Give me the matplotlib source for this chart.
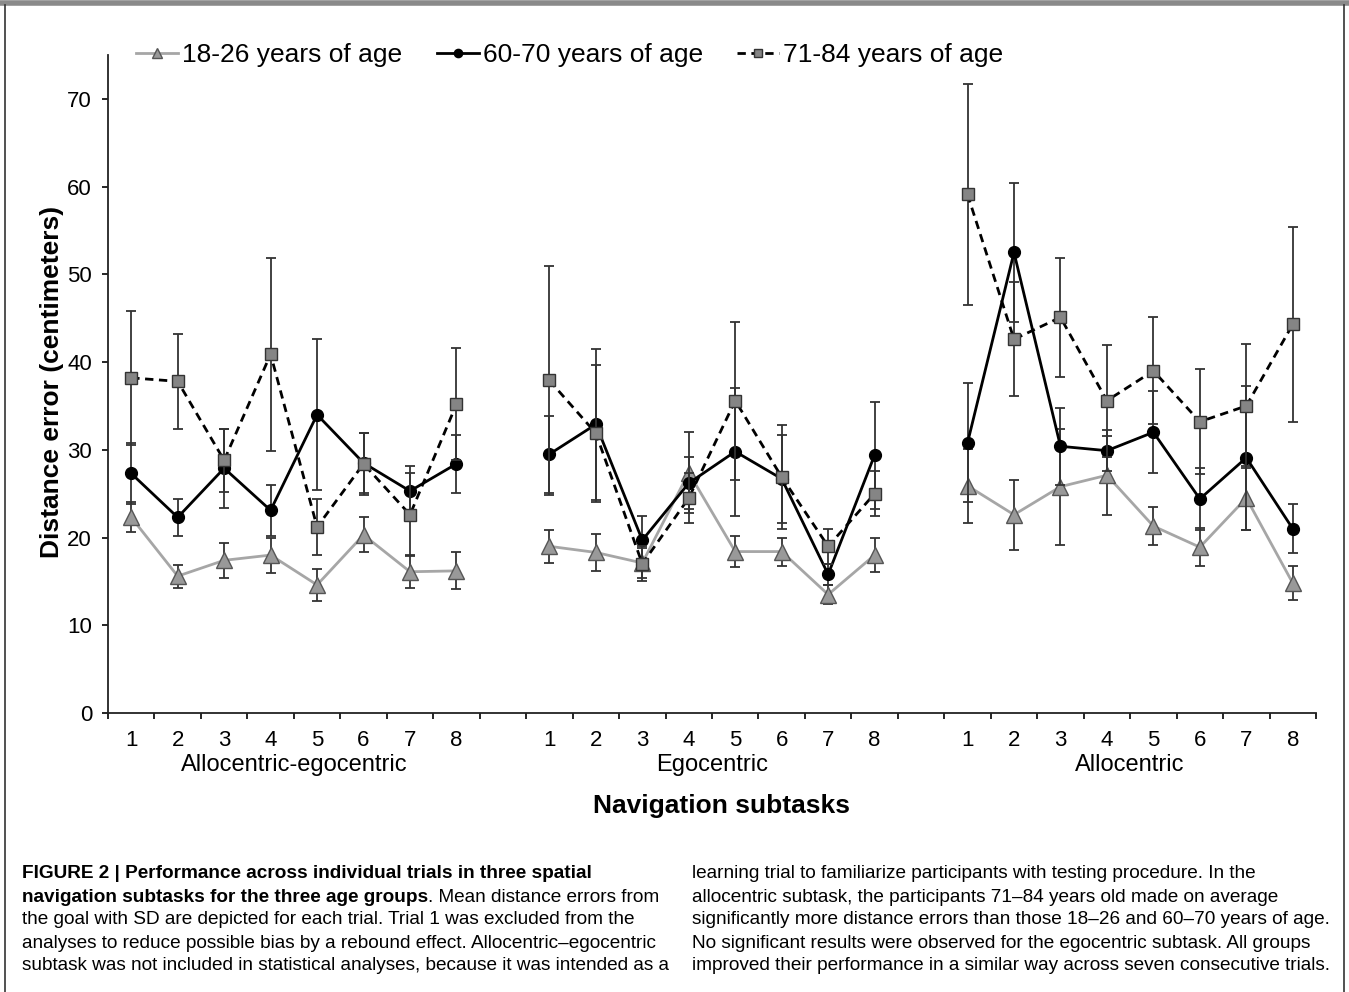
import matplotlib
matplotlib.use('Agg')
import matplotlib.pyplot as plt
from matplotlib.lines import Line2D
import numpy as np

plt.rcParams['font.family'] = ['Liberation Sans', 'DejaVu Sans']

# ---------------- data ----------------
subtasks = ['Allocentric-egocentric', 'Egocentric', 'Allocentric']
trials = ['1', '2', '3', '4', '5', '6', '7', '8']
groups = ['18-26 years of age', '60-70 years of age', '71-84 years of age']

# 18-26 years
young_mean = [
    [22.3, 15.6, 17.4, 18.0, 14.6, 20.3, 16.1, 16.2],
    [19.0, 18.3, 17.1, 27.4, 18.4, 18.4, 13.5, 18.0],
    [25.9, 22.6, 25.8, 27.1, 21.3, 18.9, 24.5, 14.8],
]
young_sd = [
    [1.7, 1.3, 2.0, 2.0, 1.8, 2.0, 1.9, 2.1],
    [1.9, 2.1, 1.7, 4.6, 1.8, 1.6, 1.1, 1.9],
    [4.2, 4.0, 6.6, 4.5, 2.2, 2.2, 3.6, 1.9],
]
# 60-70 years
mid_mean = [
    [27.3, 22.3, 27.9, 23.1, 34.0, 28.5, 25.3, 28.4],
    [29.5, 32.9, 19.7, 26.2, 29.8, 26.7, 15.8, 29.4],
    [30.8, 52.5, 30.4, 29.9, 32.0, 24.4, 29.1, 21.0],
]
mid_sd = [
    [3.5, 2.1, 4.5, 2.9, 8.6, 3.4, 2.9, 3.3],
    [4.4, 8.6, 2.7, 3.0, 7.3, 5.0, 1.2, 6.1],
    [6.8, 7.9, 4.4, 2.3, 4.7, 3.5, 8.2, 2.8],
]
# 71-84 years
old_mean = [
    [38.2, 37.8, 28.8, 40.9, 21.2, 28.4, 22.6, 35.2],
    [37.9, 31.9, 17.0, 24.5, 35.6, 26.9, 19.0, 25.0],
    [59.1, 42.6, 45.1, 35.6, 39.0, 33.2, 35.0, 44.3],
]
old_sd = [
    [7.6, 5.4, 3.6, 11.0, 3.2, 3.5, 4.7, 6.4],
    [13.1, 7.8, 2.0, 2.8, 9.0, 5.9, 2.0, 2.6],
    [12.6, 6.5, 6.8, 6.4, 6.1, 6.0, 7.1, 11.1],
]

caption_left = [
    [("FIGURE 2 | Performance across individual trials in three spatial", 'bold')],
    [("navigation subtasks for the three age groups", 'bold'), (". Mean distance errors from", 'normal')],
    [("the goal with SD are depicted for each trial. Trial 1 was excluded from the", 'normal')],
    [("analyses to reduce possible bias by a rebound effect. Allocentric\u2013egocentric", 'normal')],
    [("subtask was not included in statistical analyses, because it was intended as a", 'normal')],
]
caption_right = [
    "learning trial to familiarize participants with testing procedure. In the",
    "allocentric subtask, the participants 71\u201384 years old made on average",
    "significantly more distance errors than those 18\u201326 and 60\u201370 years of age.",
    "No significant results were observed for the egocentric subtask. All groups",
    "improved their performance in a similar way across seven consecutive trials.",
]

# ---------------- figure ----------------
W, H = 1349, 992
fig = plt.figure(figsize=(W / 100, H / 100), dpi=100)
ax = fig.add_axes([108 / W, 1 - 713 / H, (1316 - 108) / W, (713 - 55) / H])

gap = 9
styles = [
    dict(color='#a6a6a6', lw=2.0, ls='-', marker='^', ms=11, mfc='#999999', mec='#555555', mew=1.0),
    dict(color='black', lw=2.0, ls='-', marker='o', ms=8.5, mfc='black', mec='black', mew=1.0),
    dict(color='black', lw=2.0, ls=(0, (3, 2)), marker='s', ms=8.5, mfc='#858585', mec='#333333', mew=1.0),
]
data = [(young_mean, young_sd), (mid_mean, mid_sd), (old_mean, old_sd)]

for si, (means, sds) in enumerate(data):
    for g in range(len(subtasks)):
        x = np.arange(len(trials)) + g * gap
        ax.errorbar(x, means[g], yerr=sds[g], fmt='none', ecolor='#333333',
                    elinewidth=1.3, capsize=3.5, capthick=1.3, zorder=2 + si)
        ax.plot(x, means[g], zorder=3 + si, **styles[si])

n = len(subtasks) * gap - 1
ax.set_xlim(-0.5, n - 1 + 0.5)
ax.set_ylim(0, 75)
ax.set_yticks(np.arange(0, 71, 10))
ax.tick_params(axis='y', labelsize=16, length=4.5, width=1.2, direction='out', pad=7)

major = []
labels = []
for g in range(len(subtasks)):
    for i, t in enumerate(trials):
        major.append(g * gap + i)
        labels.append(t)
ax.set_xticks(major)
ax.set_xticklabels(labels)
ax.set_xticks(np.arange(-0.5, n, 1.0), minor=True)
ax.tick_params(axis='x', which='major', length=0, labelsize=16, pad=12)
ax.tick_params(axis='x', which='minor', length=4.5, width=1.2, direction='out')

for s in ['top', 'right']:
    ax.spines[s].set_visible(False)
for s in ['left', 'bottom']:
    ax.spines[s].set_linewidth(1.3)
    ax.spines[s].set_color('#222222')

xt = ax.get_xaxis_transform()
for g, name in enumerate(subtasks):
    ax.text(g * gap + 3.5, -(765 - 713) / (713 - 55), name, transform=xt,
            ha='center', va='center', fontsize=17)

fig.text(722 / W, 1 - 806 / H, 'Navigation subtasks', ha='center', va='center',
         fontsize=19, fontweight='bold')
fig.text(52 / W, 1 - 382 / H, 'Distance error (centimeters)', ha='center', va='center',
         rotation=90, fontsize=19, fontweight='bold')

# legend
handles = []
for si in range(3):
    st = dict(styles[si])
    st['ms'] = st['ms'] * 0.7
    handles.append(Line2D([], [], **st))
fig.legend(handles, groups, loc='center left', bbox_to_anchor=(136 / W, 1 - 55 / H),
           ncol=3, frameon=False, fontsize=19, handlelength=1.6, handletextpad=0.15,
           columnspacing=1.3, borderaxespad=0, borderpad=0)

# caption (auto-fit to column width)
cap_size = 14.5
ys = [873, 897, 920, 943, 966]
renderer = fig.canvas.get_renderer()


def line_width(parts, size):
    w = 0
    for txt, wt in parts:
        t = fig.text(0, 0, txt, fontsize=size, fontweight=wt)
        w += t.get_window_extent(renderer=renderer).width
        t.remove()
    return w


left_w = max(line_width(p, cap_size) for p in caption_left)
right_w = max(line_width([(t, 'normal')], cap_size) for t in caption_right)
size_l = min(cap_size, cap_size * 652 / left_w)
size_r = min(cap_size, cap_size * 648 / right_w)
size = min(size_l, size_r)

for li, parts in enumerate(caption_left):
    x = 22
    for txt, wt in parts:
        t = fig.text(x / W, 1 - ys[li] / H, txt, ha='left', va='center',
                     fontsize=size, fontweight=wt)
        bb = t.get_window_extent(renderer=renderer)
        x += bb.width
for li, txt in enumerate(caption_right):
    fig.text(692 / W, 1 - ys[li] / H, txt, ha='left', va='center', fontsize=size)

# outer frame
fig.add_artist(Line2D([0, 1], [1 - 3 / H, 1 - 3 / H], transform=fig.transFigure,
                      color='#8a8a8a', lw=4))
fig.add_artist(Line2D([5 / W, 5 / W], [0, 1 - 5 / H], transform=fig.transFigure,
                      color='#333333', lw=1.2))
fig.add_artist(Line2D([1344 / W, 1344 / W], [0, 1 - 5 / H], transform=fig.transFigure,
                      color='#333333', lw=1.2))

fig.savefig('out.png', dpi=100, facecolor='white')
